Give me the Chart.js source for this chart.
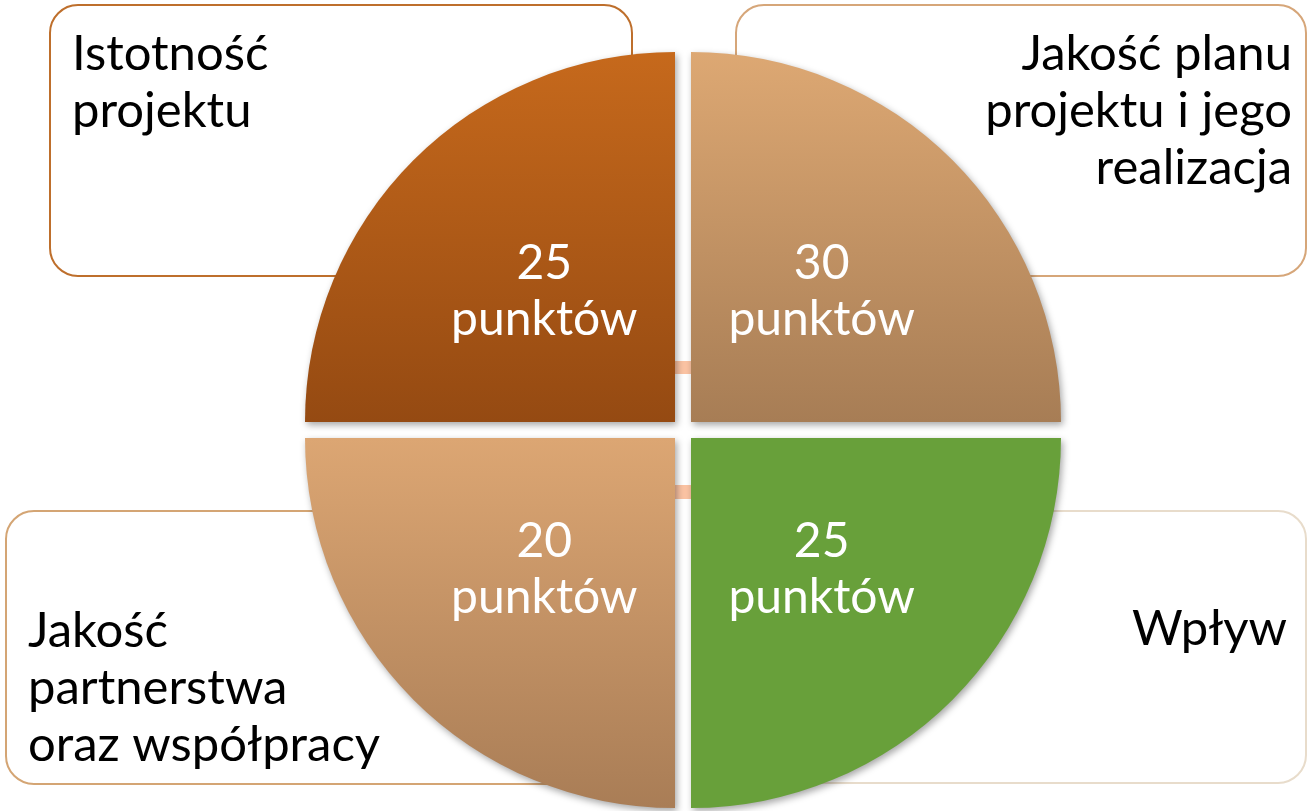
<!DOCTYPE html>
<html lang="pl">
<head>
<meta charset="utf-8">
<title>Kryteria oceny</title>
<script src="https://cdn.jsdelivr.net/npm/chart.js@4/dist/chart.umd.min.js"></script>
<style>
    html, body { margin: 0; padding: 0; background: #fff; }
    #wrap { width: 1307px; height: 811px; position: relative; }
</style>
</head>
<body>
<div id="wrap"><canvas id="matrix"></canvas></div>
<script>
// quadrants go clockwise from 12 o'clock
const categories = ['Jakość planu projektu i jego realizacja', 'Wpływ', 'Jakość partnerstwa oraz współpracy', 'Istotność projektu'];
const points = [30, 25, 20, 25];
const quadrantShare = [1, 1, 1, 1];   // every criterion gets one equal quarter
const pointsUnit = 'punktów';

// box captions, already broken into lines the way the picture has them
const captionLines = [
    ['Jakość planu', 'projektu i jego', 'realizacja'],
    ['Wpływ'],
    ['Jakość', 'partnerstwa', 'oraz współpracy'],
    ['Istotność', 'projektu']
];

const FONT = 'Lato, "Open Sans", sans-serif';
const RADIUS = 370;

const fills = [
    ['#DDA873', '#A77D55'],
    ['#68A03A', '#68A03A'],
    ['#DCA673', '#A97D56'],
    ['#C6691C', '#954A12']
];

// the rounded boxes sitting behind each quadrant
const boxes = [
    { x: 736, y: 5, w: 570, h: 271, stroke: '#D6A679', align: 'right', tx: 1292, ty: 70 },
    { x: 730, y: 511, w: 576, h: 272, stroke: '#E8DCCB', align: 'right', tx: 1287, ty: 645 },
    { x: 6, y: 511, w: 584, h: 273, stroke: '#D4A574', align: 'left', tx: 28, ty: 647 },
    { x: 50, y: 5, w: 582, h: 271, stroke: '#BE6F2C', align: 'left', tx: 72, ty: 70 }
];

function roundRect(ctx, x, y, w, h, r) {
    ctx.beginPath();
    ctx.moveTo(x + r, y);
    ctx.lineTo(x + w - r, y);
    ctx.arcTo(x + w, y, x + w, y + r, r);
    ctx.lineTo(x + w, y + h - r);
    ctx.arcTo(x + w, y + h, x + w - r, y + h, r);
    ctx.lineTo(x + r, y + h);
    ctx.arcTo(x, y + h, x, y + h - r, r);
    ctx.lineTo(x, y + r);
    ctx.arcTo(x, y, x + r, y, r);
    ctx.closePath();
}

const backdrop = {
    id: 'backdrop',
    beforeDatasetsDraw(chart) {
        const ctx = chart.ctx;
        ctx.save();
        boxes.forEach((b, i) => {
            roundRect(ctx, b.x, b.y, b.w, b.h, 28);
            ctx.fillStyle = '#fff';
            ctx.fill();
            ctx.lineWidth = 2;
            ctx.strokeStyle = b.stroke;
            ctx.stroke();

            ctx.fillStyle = '#000';
            ctx.font = '49px ' + FONT;
            ctx.textAlign = b.align;
            ctx.textBaseline = 'alphabetic';
            captionLines[i].forEach((line, j) => ctx.fillText(line, b.tx, b.ty + j * 57));
        });

        // little peach bits of the cross showing through the vertical gap
        const arc = chart.getDatasetMeta(0).data[0];
        if (arc) {
            ctx.fillStyle = '#FBC3A3';
            ctx.fillRect(arc.x - 8, arc.y - 69, 16, 13);
            ctx.fillRect(arc.x - 8, arc.y + 55, 16, 14);
        }
        ctx.restore();

        ctx.save();
        ctx.shadowColor = 'rgba(0,0,0,0.35)';
        ctx.shadowBlur = 7;
        ctx.shadowOffsetX = 2;
        ctx.shadowOffsetY = 3;
    },
    afterDatasetsDraw(chart) {
        const ctx = chart.ctx;
        ctx.restore();
        ctx.save();
        ctx.fillStyle = '#fff';
        ctx.font = '48px ' + FONT;
        ctx.textAlign = 'center';
        ctx.textBaseline = 'alphabetic';
        chart.getDatasetMeta(0).data.forEach((arc, i) => {
            const mid = (arc.startAngle + arc.endAngle) / 2;
            const r = arc.outerRadius * 0.53;
            const px = arc.x + Math.cos(mid) * r;
            const py = arc.y + Math.sin(mid) * r;
            ctx.fillText(String(points[i]), px, py - 12);
            ctx.fillText(pointsUnit, px, py + 44);
        });
        ctx.restore();
    }
};

function quadrantFill(context) {
    const i = context.dataIndex;
    const area = context.chart.chartArea;
    if (!area || i === undefined) return fills[i || 0][0];
    const cy = (area.top + area.bottom) / 2;
    const top = (i === 0 || i === 3);
    const y0 = top ? cy - RADIUS : cy;
    const g = context.chart.ctx.createLinearGradient(0, y0, 0, y0 + RADIUS);
    g.addColorStop(0, fills[i][0]);
    g.addColorStop(1, fills[i][1]);
    return g;
}

new Chart(document.getElementById('matrix'), {
    type: 'pie',
    data: {
        labels: categories,
        datasets: [{
            data: quadrantShare,
            backgroundColor: quadrantFill,
            borderWidth: 0,
            offset: 45.25,
            radius: RADIUS
        }]
    },
    options: {
        responsive: true,
        maintainAspectRatio: false,
        animation: false,
        layout: { padding: { left: 59, top: 49, right: 0, bottom: 0 } },
        plugins: {
            legend: { display: false },
            tooltip: { enabled: false }
        }
    },
    plugins: [backdrop]
});
</script>
</body>
</html>
